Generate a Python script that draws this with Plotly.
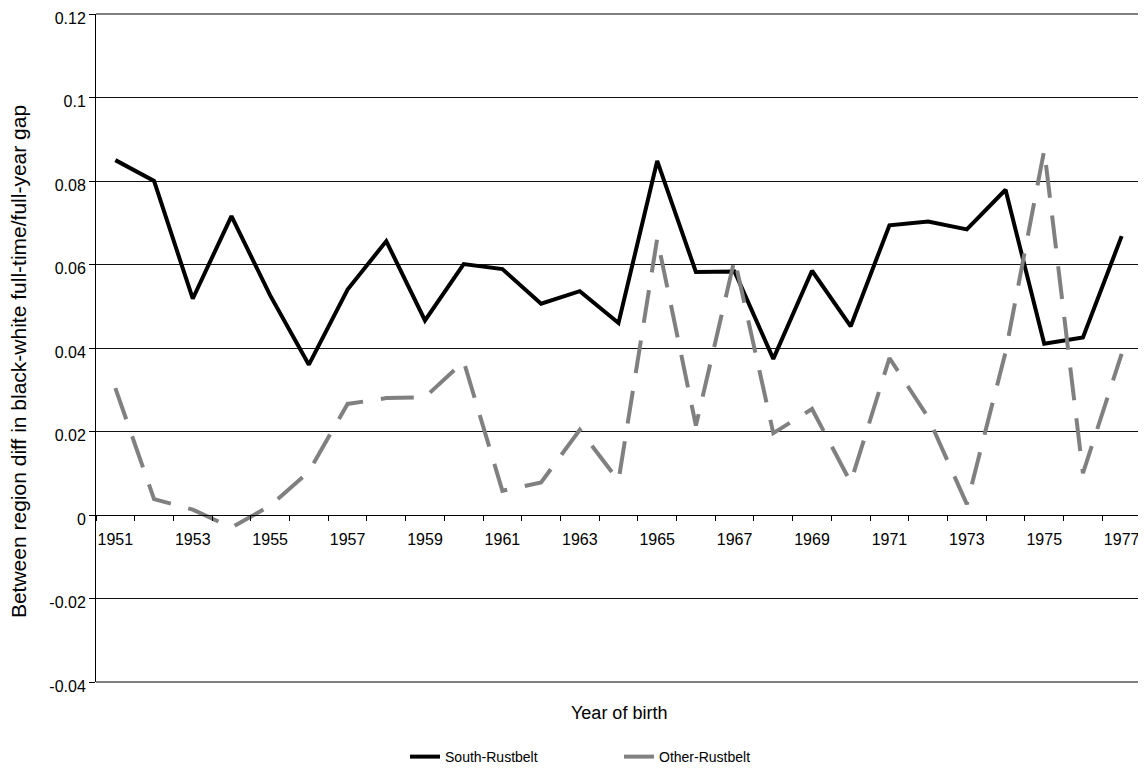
import plotly.graph_objects as go

years = list(range(1951, 1978))
south_rustbelt = [0.0850, 0.0800, 0.0518, 0.0716, 0.0526, 0.0360, 0.0540, 0.0656,
                  0.0466, 0.0601, 0.0589, 0.0506, 0.0536, 0.0460, 0.0848, 0.0582,
                  0.0583, 0.0374, 0.0585, 0.0452, 0.0694, 0.0703, 0.0684, 0.0779,
                  0.0410, 0.0425, 0.0668]
other_rustbelt = [0.0304, 0.0038, 0.0013, -0.0030, 0.0022, 0.0104, 0.0266, 0.0280,
                  0.0282, 0.0368, 0.0058, 0.0078, 0.0204, 0.0082, 0.0662, 0.0214,
                  0.0613, 0.0196, 0.0254, 0.0078, 0.0376, 0.0234, 0.0026, 0.0390,
                  0.0874, 0.0100, 0.0386]
x_tick_years = list(range(1951, 1978, 2))
y_tick_vals = [0.12, 0.1, 0.08, 0.06, 0.04, 0.02, 0, -0.02, -0.04]
y_tick_text = ["0.12", "0.1", "0.08", "0.06", "0.04", "0.02", "0", "-0.02", "-0.04"]

FONT = "Liberation Sans, Arial, sans-serif"

fig = go.Figure()
fig.add_trace(go.Scatter(
    x=years, y=south_rustbelt, mode="lines", name="South-Rustbelt",
    line=dict(color="#000000", width=4),
))
fig.add_trace(go.Scatter(
    x=years, y=other_rustbelt, mode="lines", name="Other-Rustbelt",
    line=dict(color="#808080", width=4, dash="33px,18px"),
))

# page body has an 8px default margin, so the figure is 8px smaller and offset
fig.update_layout(
    width=1138, height=763,
    margin=dict(l=88, r=5, t=6, b=89, autoexpand=False),
    paper_bgcolor="white", plot_bgcolor="white",
    font=dict(family=FONT, color="#000000"),
    showlegend=True,
    legend=dict(orientation="h", x=0.2957, xanchor="left", y=-0.1123, yanchor="middle",
                font=dict(size=14, family=FONT), entrywidth=169,
                bgcolor="rgba(0,0,0,0)"),
    xaxis=dict(
        range=[1950.5, 1977.5], tickvals=x_tick_years,
        ticktext=[str(y) for y in x_tick_years],
        ticks="", ticklabelstandoff=10, ticklabeloverflow="allow",
        tickfont=dict(size=16, family=FONT, color="#000"),
        showgrid=False, zeroline=False,
        showline=True, linecolor="#000", linewidth=1,
        anchor="free", position=0.25, automargin=False,
        minor=dict(tick0=1950.5, dtick=1, ticks="outside", ticklen=5,
                   tickcolor="#000", tickwidth=1, showgrid=False),
    ),
    yaxis=dict(
        range=[-0.04, 0.12], tickvals=y_tick_vals, ticktext=y_tick_text,
        ticks="outside", ticklen=6, tickcolor="#000", ticklabeloverflow="allow",
        ticklabelshift=4,
        tickfont=dict(size=16, family=FONT, color="#000"),
        showgrid=True, gridcolor="#111", gridwidth=1,
        zeroline=False, showline=True, linecolor="#000", linewidth=1,
        automargin=False,
    ),
    annotations=[
        dict(text="Year of birth", xref="paper", yref="paper", x=0.5, y=-0.0464,
             xanchor="center", yanchor="middle", showarrow=False,
             font=dict(size=18, family=FONT, color="#000")),
        dict(text="Between region diff in black-white full-time/full-year gap",
             xref="paper", yref="paper", x=-0.0746, y=0.479, textangle=-90,
             xanchor="center", yanchor="middle", showarrow=False,
             font=dict(size=21, family=FONT, color="#000")),
    ],
    shapes=[
        dict(type="line", xref="paper", yref="paper", x0=0, x1=1, y0=1, y1=1,
             line=dict(color="#000", width=1)),
        dict(type="line", xref="paper", yref="paper", x0=0, x1=1, y0=0, y1=0,
             line=dict(color="#000", width=1)),
        dict(type="line", xref="paper", yref="paper", x0=1, x1=1, y0=0, y1=1,
             line=dict(color="#808080", width=2)),
    ],
)

fig.write_html("out.html")
